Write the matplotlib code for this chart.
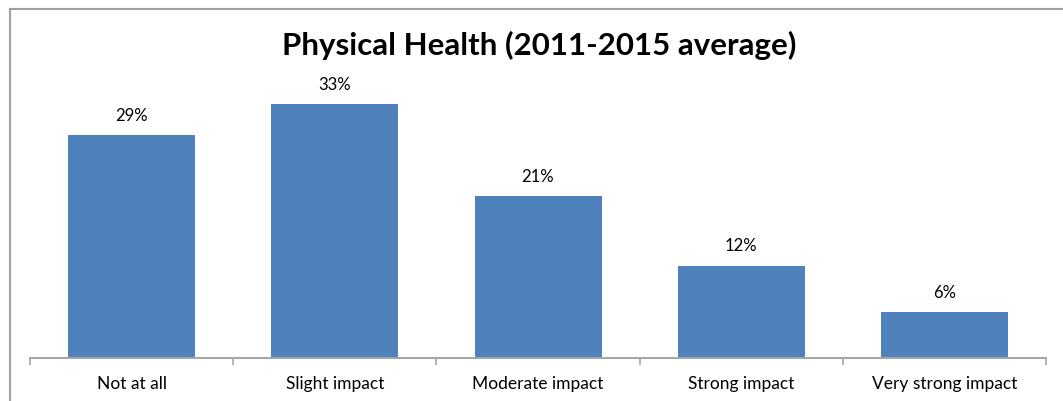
import matplotlib.pyplot as plt
from matplotlib.lines import Line2D

# ── Data ─────────────────────────────────────────────────
categories = ["Not at all", "Slight impact", "Moderate impact",
              "Strong impact", "Very strong impact"]
values = [29, 33, 21, 12, 6]
value_labels = ["29%", "33%", "21%", "12%", "6%"]

BAR_COLOR = "#4F81BD"
FONT = ["Lato", "DejaVu Sans"]

fig = plt.figure(figsize=(10.63, 4.01), dpi=100)
fig.patch.set_facecolor("white")

W, H = 1063, 401
ax = fig.add_axes([30 / W, 43 / H, 1016 / W, 269.5 / H])

x = range(len(categories))
bars = ax.bar(x, values, width=0.625, color=BAR_COLOR, zorder=2)

ax.set_xlim(-0.5, len(categories) - 0.5)
ax.set_ylim(0, 35)

for bar, lab in zip(bars, value_labels):
    ax.annotate(lab, (bar.get_x() + bar.get_width() / 2, bar.get_height()),
                xytext=(0, 8), textcoords="offset points",
                ha="center", va="bottom", fontsize=12, family=FONT,
                color="#000000")

# x axis: labels centred, ticks at category boundaries
ax.set_xticks(list(x))
ax.set_xticklabels(categories, fontsize=12.5, family=FONT)
ax.set_xticks([i - 0.5 for i in range(len(categories) + 1)], minor=True)
ax.tick_params(axis="x", which="major", length=0, pad=13)
ax.tick_params(axis="x", which="minor", length=5, color="#A6A6A6", width=1.2)
ax.set_yticks([])

for side in ["top", "right", "left"]:
    ax.spines[side].set_visible(False)
ax.spines["bottom"].set_color("#A6A6A6")
ax.spines["bottom"].set_linewidth(1.5)

fig.text(539 / W, 1 - 45 / H, "Physical Health (2011-2015 average)",
         ha="center", va="center", fontsize=22.5, fontweight="bold", family=FONT)

# chart frame (partly cropped in the original)
fig.add_artist(Line2D([9.5 / W, 1], [1 - 8.5 / H, 1 - 8.5 / H],
                      transform=fig.transFigure, color="#A0A0A0", linewidth=1.5))
fig.add_artist(Line2D([9.5 / W, 9.5 / W], [0, 1 - 8.5 / H],
                      transform=fig.transFigure, color="#A0A0A0", linewidth=1.5))

fig.savefig("out.png", dpi=100, facecolor=fig.get_facecolor())
